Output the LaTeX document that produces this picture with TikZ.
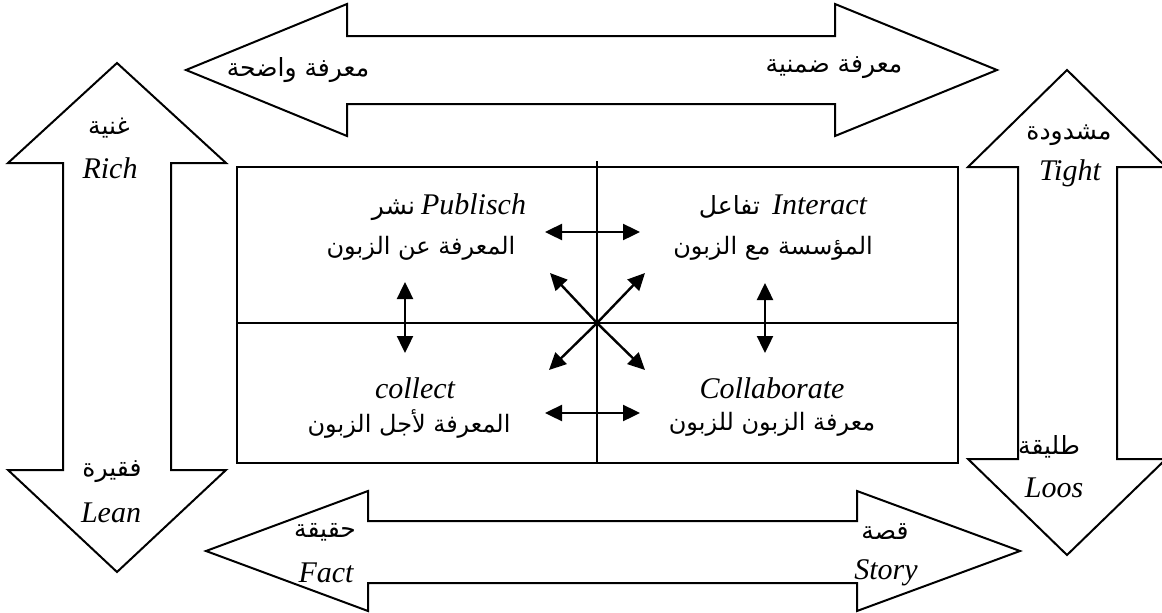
\documentclass[tikz,border=0pt]{standalone}
\usepackage{fontspec}
\setmainfont{Liberation Serif}
\newfontfamily\arabicfont[Script=Arabic]{DejaVu Sans}
\TeXXeTstate=1
\usetikzlibrary{arrows.meta}
\begin{document}
\begin{tikzpicture}[x=1pt,y=-1pt,
  outline/.style={draw=black,line width=2pt,line join=miter},
  link/.style={line width=2.4pt,{Triangle[length=17pt,width=16pt]}-{Triangle[length=17pt,width=16pt]}},
  oneway/.style={line width=2.4pt,-{Triangle[length=17pt,width=16pt]}},
  lat/.style={font=\fontsize{30}{32}\selectfont\itshape,inner sep=0pt},
  ara/.style={font=\fontsize{25}{28}\selectfont\arabicfont,inner sep=0pt},
  arq/.style={font=\fontsize{24}{28}\selectfont\arabicfont,inner sep=0pt},
  mixed/.style={inner sep=0pt}]
\useasboundingbox (0,0) rectangle (1162,613);

% horizontal band arrows
\draw[outline] (186,70) -- (347,4) -- (347,36) -- (835,36) -- (835,4) -- (997,70)
  -- (835,136) -- (835,104) -- (347,104) -- (347,136) -- cycle;
\draw[outline] (206,551) -- (368,491) -- (368,521) -- (857,521) -- (857,491) -- (1020,551)
  -- (857,611) -- (857,583) -- (368,583) -- (368,611) -- cycle;
% vertical band arrows
\draw[outline] (117,63) -- (226,163) -- (171,163) -- (171,470) -- (226,470) -- (117,572)
  -- (8,470) -- (63,470) -- (63,163) -- (8,163) -- cycle;
\draw[outline] (1067,70) -- (1166,167) -- (1117,167) -- (1117,459) -- (1166,459) -- (1067,555)
  -- (968,459) -- (1018,459) -- (1018,167) -- (968,167) -- cycle;

% central grid
\draw[outline] (237,167) rectangle (958,463);
\draw[outline] (237,323) -- (958,323);
\draw[outline] (597,161) -- (597,463);

% band labels
\node[ara] (explicit) at (298,70) {\beginR معرفة واضحة\endR};
\node[ara] (tacit) at (834,68) {\beginR معرفة ضمنية\endR};
\node[ara] (richar) at (109,128) {\beginR غنية\endR};
\node[lat] (rich) at (110,168) {Rich};
\node[ara] (leanar) at (112,472) {\beginR فقيرة\endR};
\node[lat] (lean) at (111,513) {Lean};
\node[ara] (tightar) at (1069,135) {\beginR مشدودة\endR};
\node[lat] (tight) at (1070,173) {Tight};
\node[ara] (loosar) at (1049,447) {\beginR طليقة\endR};
\node[lat] (loos) at (1054,488) {Loos};
\node[ara] (factar) at (325,532) {\beginR حقيقة\endR};
\node[lat] (fact) at (326,573) {Fact};
\node[ara] (storyar) at (885,532) {\beginR قصة\endR};
\node[lat] (story) at (886,573) {Story};

% quadrant labels
\node[mixed] (publish) at (449,207)
  {{\fontsize{25}{28}\selectfont\arabicfont\beginR نشر\endR}\hspace{6pt}{\fontsize{30}{32}\selectfont\itshape Publisch}};
\node[arq] (publishar) at (421,248) {\beginR المعرفة عن الزبون\endR};
\node[lat] (collect) at (415,388) {collect};
\node[arq] (collectar) at (409,424) {\beginR المعرفة لأجل الزبون\endR};
\node[mixed] (interact) at (783,207)
  {{\fontsize{25}{28}\selectfont\arabicfont\beginR تفاعل\endR}\hspace{12pt}{\fontsize{30}{32}\selectfont\itshape Interact}};
\node[arq] (interactar) at (773,248) {\beginR المؤسسة مع الزبون\endR};
\node[lat] (collab) at (772,388) {Collaborate};
\node[arq] (collabar) at (772,424) {\beginR معرفة الزبون للزبون\endR};

% arrow end points
\coordinate (hub) at (597,323);
\coordinate (ul) at (550,273);
\coordinate (ur) at (645,273);
\coordinate (ll) at (549,370);
\coordinate (lr) at (645,370);
\coordinate (ta) at (545,232);
\coordinate (tb) at (640,232);
\coordinate (ba) at (545,413);
\coordinate (bb) at (640,413);
\coordinate (la) at (405,282);
\coordinate (lb) at (405,353);
\coordinate (ra) at (765,283);
\coordinate (rb) at (765,353);

\draw[link] (ta) -- (tb);
\draw[link] (ba) -- (bb);
\draw[link] (la) -- (lb);
\draw[link] (ra) -- (rb);
\draw[oneway] (hub) -- (ul);
\draw[oneway] (hub) -- (ur);
\draw[oneway] (hub) -- (ll);
\draw[oneway] (hub) -- (lr);
\end{tikzpicture}
\end{document}
